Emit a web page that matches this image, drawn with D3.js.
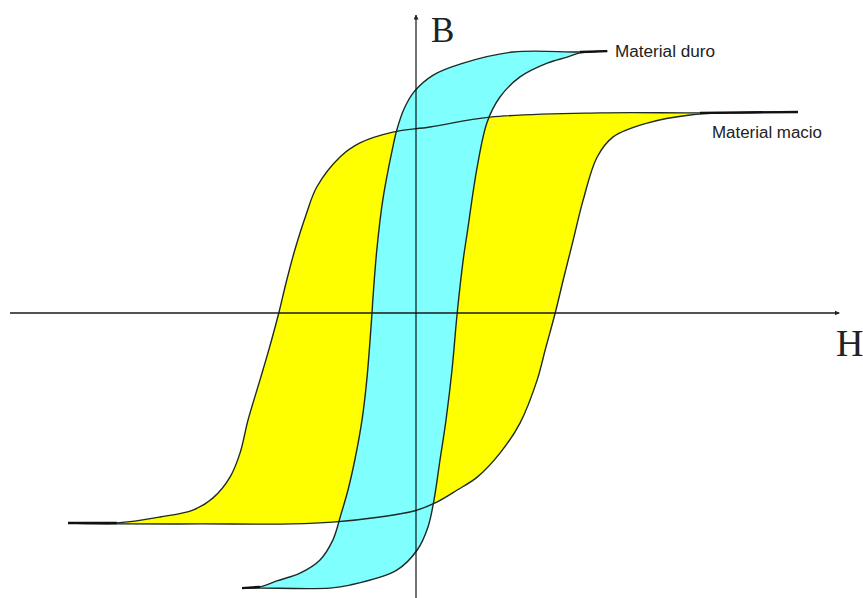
<!DOCTYPE html>
<html>
<head>
<meta charset="utf-8">
<script src="https://cdn.jsdelivr.net/npm/d3@7"></script>
<style>
  html, body { margin: 0; padding: 0; background: #fff; }
</style>
</head>
<body>
<div id="chart"></div>
<script>
const w = 863;
const h = 598;

// Material macio (yellow loop) - descending branch, right to left
const macioDescH = [9.55, 7.10, 4.60, 1.85, 0.35, -0.58, -1.40, -1.90, -2.48, -2.75, -3.03, -3.25, -3.43, -3.68, -3.90, -4.20, -4.40, -4.65, -5.08, -5.58, -6.40, -7.48, -8.70];
const macioDescB = [6.70, 6.67, 6.67, 6.53, 6.20, 6.03, 5.67, 5.20, 4.20, 3.27, 2.10, 1.00, 0, -1.23, -2.23, -3.57, -4.67, -5.47, -6.17, -6.57, -6.80, -7.00, -7.00];
// Material macio - ascending branch, left to right
const macioAscH = [-8.70, -7.48, -5.40, -3.08, -2.08, -0.90, -0.05, 0.48, 1.03, 1.53, 2.10, 2.60, 3.03, 3.23, 3.48, 3.68, 3.93, 4.18, 4.53, 4.93, 5.78, 6.85, 7.85, 9.55];
const macioAscB = [-7.00, -7.03, -7.03, -7.03, -6.97, -6.80, -6.60, -6.33, -5.90, -5.47, -4.67, -3.67, -2.23, -1.23, 0, 1.10, 2.43, 3.77, 5.20, 5.87, 6.33, 6.60, 6.67, 6.70];

// Material duro (cyan loop) - descending branch
const duroDescH = [4.78, 4.10, 2.43, 1.18, 0.43, -0.05, -0.30, -0.48, -0.58, -0.83, -0.98, -1.08, -1.10, -1.23, -1.35, -1.53, -1.70, -1.88, -2.08, -2.40, -2.90, -3.48, -3.90, -4.35];
const duroDescB = [8.73, 8.70, 8.70, 8.33, 7.93, 7.37, 6.80, 6.10, 5.53, 3.77, 2.10, 0.43, 0, -2.23, -3.57, -4.90, -5.90, -6.73, -7.57, -8.23, -8.67, -8.93, -9.13, -9.17];
// Material duro - ascending branch
const duroAscH = [-4.35, -3.90, -2.15, -1.65, -0.48, 0.03, 0.30, 0.45, 0.60, 0.75, 0.90, 1.03, 1.18, 1.28, 1.53, 1.78, 2.10, 2.60, 3.28, 3.78, 4.10, 4.78];
const duroAscB = [-9.17, -9.17, -9.17, -9.07, -8.57, -7.90, -7.13, -6.23, -4.90, -3.57, -1.90, 0, 1.77, 2.67, 4.87, 6.37, 7.20, 7.87, 8.33, 8.53, 8.67, 8.73];

const labels = ["Material duro", "Material macio"];
const axisLabels = ["H", "B"];

const zip = (xs, ys) => xs.map((x, i) => [x, ys[i]]);

const svg = d3.select("#chart")
    .append("svg")
    .attr("width", w)
    .attr("height", h)
    .style("display", "block");

const x = d3.scaleLinear().domain([-10, 10]).range([16, 816]);
const y = d3.scaleLinear().domain([-10, 10]).range([613, 13]);

const line = d3.line()
    .x(d => x(d[0]))
    .y(d => y(d[1]))
    .curve(d3.curveCatmullRom.alpha(0.5));

const loops = [
    { desc: zip(macioDescH, macioDescB), asc: zip(macioAscH, macioAscB), fill: "#ffff00" },
    { desc: zip(duroDescH, duroDescB), asc: zip(duroAscH, duroAscB), fill: "#80ffff" }
];

// fills first
loops.forEach(l => {
    svg.append("path")
        .attr("d", line(l.desc.concat(l.asc.slice(1))) + "Z")
        .attr("fill", l.fill)
        .attr("stroke", "none");
});

// outlines on top
loops.forEach(l => {
    [l.desc, l.asc].forEach(b => {
        svg.append("path")
            .attr("d", line(b))
            .attr("fill", "none")
            .attr("stroke", "#1e2a26")
            .attr("stroke-width", 1.4);
    });
});

// saturation tails look heavier where both branches meet
loops.forEach(l => {
    const n = l.desc.length;
    [[l.desc[0], l.desc[1]], [l.desc[n - 2], l.desc[n - 1]]].forEach(seg => {
        svg.append("path")
            .attr("d", d3.line().x(d => x(d[0])).y(d => y(d[1]))(seg))
            .attr("stroke", "#111")
            .attr("stroke-width", 2.4);
    });
});

// arrows
const defs = svg.append("defs");
defs.append("marker")
    .attr("id", "arrow")
    .attr("viewBox", "0 0 10 10")
    .attr("refX", 9)
    .attr("refY", 5)
    .attr("markerWidth", 5)
    .attr("markerHeight", 5)
    .attr("markerUnits", "userSpaceOnUse")
    .attr("orient", "auto")
    .append("path")
    .attr("d", "M0,0 L10,5 L0,10 Z")
    .attr("fill", "#222");

// H axis
svg.append("line")
    .attr("x1", x(-10.15)).attr("x2", x(10.58))
    .attr("y1", y(0)).attr("y2", y(0))
    .attr("stroke", "#1a1a1a")
    .attr("stroke-width", 1.4)
    .attr("marker-end", "url(#arrow)");

// B axis
svg.append("line")
    .attr("x1", x(0)).attr("x2", x(0))
    .attr("y1", y(-9.9)).attr("y2", y(9.93))
    .attr("stroke", "#000")
    .attr("stroke-opacity", 0.55)
    .attr("stroke-width", 2)
    .attr("marker-end", "url(#arrow)");

svg.append("text")
    .attr("x", 836)
    .attr("y", 356)
    .attr("font-family", "'Liberation Serif', 'DejaVu Serif', serif")
    .attr("font-size", 38)
    .attr("fill", "#222")
    .text(axisLabels[0]);

svg.append("text")
    .attr("x", 431)
    .attr("y", 42)
    .attr("font-family", "'Liberation Serif', 'DejaVu Serif', serif")
    .attr("font-size", 35)
    .attr("fill", "#222")
    .text(axisLabels[1]);

// curve labels
svg.append("text")
    .attr("x", 615)
    .attr("y", 57)
    .attr("font-family", "'Liberation Sans Narrow', 'Arial Narrow', 'Liberation Sans', sans-serif")
    .attr("font-size", 16)
    .attr("fill", "#222")
    .attr("textLength", 100)
    .attr("lengthAdjust", "spacingAndGlyphs")
    .text(labels[0]);

svg.append("text")
    .attr("x", 712)
    .attr("y", 138)
    .attr("font-family", "'Liberation Sans Narrow', 'Arial Narrow', 'Liberation Sans', sans-serif")
    .attr("font-size", 16)
    .attr("fill", "#222")
    .attr("textLength", 110)
    .attr("lengthAdjust", "spacingAndGlyphs")
    .text(labels[1]);
</script>
</body>
</html>
